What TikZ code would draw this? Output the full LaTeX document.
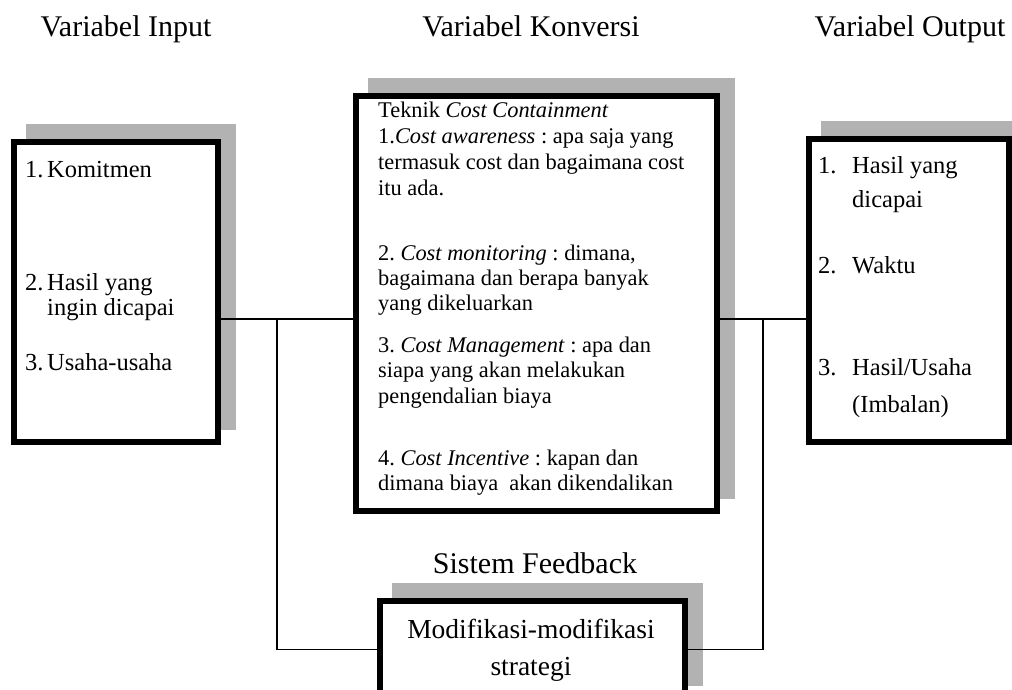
\documentclass[tikz,border=0pt]{standalone}
\usepackage{fontspec}
\setmainfont{Liberation Serif}
\usetikzlibrary{backgrounds,calc}
\frenchspacing
\begin{document}
\begin{tikzpicture}[x=1pt,y=-1pt,
 box/.style={draw=black, line width=6pt, fill=white, inner sep=0pt, outer sep=3pt, rectangle},
 shade/.style={fill=black!30},
 conn/.style={draw=black, line width=1.3pt},
 head/.style={font=\fontsize{30}{36}\selectfont, inner sep=0pt, anchor=base},
 fbtxt/.style={font=\fontsize{27.5}{33}\selectfont, inner sep=0pt, anchor=base},
 itm/.style={font=\fontsize{24.5}{30}\selectfont, inner sep=0pt, anchor=base west},
 ctr/.style={font=\fontsize{22.4}{26}\selectfont, inner sep=0pt, anchor=base west},
]
\useasboundingbox (0,0) rectangle (1012,690);

% boxes
\node[box, minimum width=204pt, minimum height=300pt] (inp) at (116,292) {};
\node[box, minimum width=361pt, minimum height=415pt] (kon) at (536.5,303.5) {};
\node[box, minimum width=200pt, minimum height=303pt] (out) at (909,290.5) {};
\node[box, minimum width=305pt, minimum height=97pt] (fb) at (532.5,649.5) {};

% shadows
\begin{scope}[on background layer]
\foreach \n in {inp,kon,out,fb}
  \fill[shade] ([shift={(15pt,15pt)}]\n.south west) rectangle ([shift={(15pt,15pt)}]\n.north east);
\end{scope}

% connectors
\coordinate (jl) at (277,319);
\coordinate (jr) at (763,319);
\draw[conn] (inp.east |- jl) -- (kon.west |- jl);
\draw[conn] (jl) |- (fb.west);
\draw[conn] (kon.east |- jr) -- (out.west |- jr);
\draw[conn] (jr) |- (fb.east);

% headings
\node[head] (h1) at (126,37) {Variabel Input};
\node[head] (h2) at (531,37) {Variabel Konversi};
\node[head] (h3) at (910,37) {Variabel Output};
\node[head] (h4) at (535,573) {Sistem Feedback};

% input items
\node[itm] (a1) at (25,178) {\makebox[22pt][l]{1.}Komitmen};
\node[itm] (a2) at (25,290) {\makebox[22pt][l]{2.}Hasil yang};
\node[itm] (a2b) at (47,315) {ingin dicapai};
\node[itm] (a3) at (25,370) {\makebox[22pt][l]{3.}Usaha-usaha};

% output items
\node[itm] (b1) at (818,173) {\makebox[34pt][l]{1.}Hasil yang};
\node[itm] (b1b) at (852,207) {dicapai};
\node[itm] (b2) at (818,273) {\makebox[34pt][l]{2.}Waktu};
\node[itm] (b3) at (818,375) {\makebox[34pt][l]{3.}Hasil/Usaha};
\node[itm] (b3b) at (852,412) {(Imbalan)};

% conversion text
\node[ctr] (c0) at (378,118) {Teknik \textit{Cost Containment}};
\node[ctr] (c1) at (378,144) {1.\textit{Cost awareness} : apa saja yang};
\node[ctr] (c1b) at (378,170) {termasuk cost dan bagaimana cost};
\node[ctr] (c1c) at (378,195) {itu ada.};
\node[ctr] (c2) at (378,260) {2. \textit{Cost monitoring} : dimana,};
\node[ctr] (c2b) at (378,285) {bagaimana dan berapa banyak};
\node[ctr] (c2c) at (378,310) {yang dikeluarkan};
\node[ctr] (c3) at (378,352) {3. \textit{Cost Management} : apa dan};
\node[ctr] (c3b) at (378,377) {siapa yang akan melakukan};
\node[ctr] (c3c) at (378,403) {pengendalian biaya};
\node[ctr] (c4) at (378,465) {4. \textit{Cost Incentive} : kapan dan};
\node[ctr] (c4b) at (378,490) {dimana biaya\ \ akan dikendalikan};

% feedback text
\node[fbtxt] (f1) at (531,638) {Modifikasi-modifikasi};
\node[fbtxt] (f2) at (531,675) {strategi};
\end{tikzpicture}
\end{document}
